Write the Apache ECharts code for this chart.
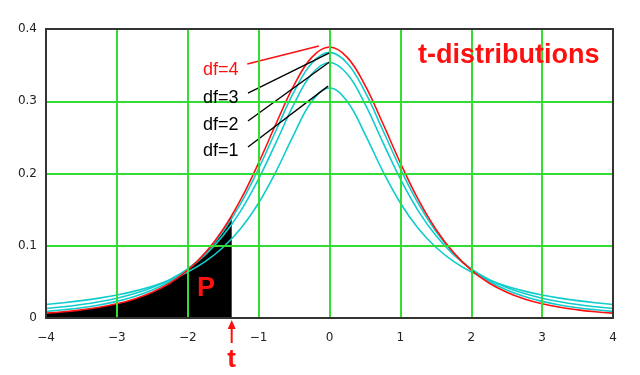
<!DOCTYPE html>
<html>
<head>
<meta charset="utf-8">
<script src="https://cdn.jsdelivr.net/npm/echarts@6/dist/echarts.min.js"></script>
<style>html,body{margin:0;padding:0;background:#fff;}#c{width:640px;height:375px;}</style>
</head>
<body>
<div id="c"></div>
<script>
const xs = [-4,-3.75,-3.5,-3.25,-3,-2.75,-2.5,-2.25,-2,-1.75,-1.5,-1.25,-1,-0.75,-0.5,-0.25,0,0.25,0.5,0.75,1,1.25,1.5,1.75,2,2.25,2.5,2.75,3,3.25,3.5,3.75,4];
const df1 = [0.0187,0.0211,0.0240,0.0275,0.0318,0.0372,0.0439,0.0525,0.0637,0.0784,0.0979,0.1242,0.1592,0.2037,0.2546,0.2996,0.3183,0.2996,0.2546,0.2037,0.1592,0.1242,0.0979,0.0784,0.0637,0.0525,0.0439,0.0372,0.0318,0.0275,0.0240,0.0211,0.0187];
const df2 = [0.0131,0.0155,0.0186,0.0225,0.0274,0.0338,0.0422,0.0533,0.0680,0.0878,0.1141,0.1487,0.1925,0.2438,0.2963,0.3376,0.3536,0.3376,0.2963,0.2438,0.1925,0.1487,0.1141,0.0878,0.0680,0.0533,0.0422,0.0338,0.0274,0.0225,0.0186,0.0155,0.0131];
const df3 = [0.0092,0.0114,0.0142,0.0180,0.0230,0.0297,0.0387,0.0509,0.0675,0.0900,0.1200,0.1589,0.2067,0.2606,0.3132,0.3527,0.3676,0.3527,0.3132,0.2606,0.2067,0.1589,0.1200,0.0900,0.0675,0.0509,0.0387,0.0297,0.0230,0.0180,0.0142,0.0114,0.0092];
const df4 = [0.0067,0.0087,0.0113,0.0148,0.0197,0.0264,0.0357,0.0485,0.0663,0.0905,0.1229,0.1644,0.2147,0.2699,0.3223,0.3607,0.3750,0.3607,0.3223,0.2699,0.2147,0.1644,0.1229,0.0905,0.0663,0.0485,0.0357,0.0264,0.0197,0.0148,0.0113,0.0087,0.0067];
const tValue = -1.38;
const fillX = [-4,-3.75,-3.5,-3.25,-3,-2.75,-2.5,-2.25,-2,-1.75,-1.5,-1.38];
const fillY = [0.0067,0.0087,0.0113,0.0148,0.0197,0.0264,0.0357,0.0485,0.0663,0.0905,0.1229,0.1417];
const xTicks = [-4,-3,-2,-1,0,1,2,3,4];
const yTicks = [0,0.1,0.2,0.3,0.4];
const labelNames = ['df=4','df=3','df=2','df=1'];
const leaderStart = [[-1.16,0.3516],[-1.15,0.3114],[-1.15,0.2727],[-1.15,0.2367]];
const leaderEnd = [[-0.15,0.3765],[0,0.3668],[0,0.3543],[-0.02,0.321]];

const pairs = (x, y) => x.map((v, i) => [v, y[i]]);
const chart = echarts.init(document.getElementById('c'));
const RED = '#ff1010', CYAN = '#10cccc', FRAME = '#333';

const curve = (data, color, z) => ({
  type: 'line', data: pairs(xs, data), smooth: 0.4, symbol: 'none', z: z,
  lineStyle: { color: color, width: 1.6 }, silent: true
});
const leader = (i, color) => ({
  type: 'line', data: [leaderStart[i], leaderEnd[i]], symbol: 'none', z: 6,
  lineStyle: { color: color, width: 1.4 }, silent: true
});
const frameAxis = (pos, min, max, interval) => ({
  type: 'value', position: pos, min: min, max: max, interval: interval,
  axisLine: { show: true, onZero: false, lineStyle: { color: FRAME, width: 2 } },
  axisTick: { show: false }, axisLabel: { show: false }, splitLine: { show: false }, z: 10
});

chart.setOption({
  animation: false,
  backgroundColor: '#fff',
  grid: { left: 46, right: 27, top: 29, bottom: 57 },
  xAxis: [{
    type: 'value', min: -4, max: 4, interval: 1, position: 'bottom',
    axisLine: { show: true, onZero: false, lineStyle: { color: FRAME, width: 2 } }, axisTick: { show: false },
    axisLabel: { margin: 14, color: '#222', fontFamily: 'DejaVu Sans', fontSize: 12,
      formatter: v => xTicks.includes(v) ? String(v).replace('-', '\u2212') : '' },
    splitLine: { show: true, lineStyle: { color: '#33dd33', width: 2 } }, z: 10
  }, frameAxis('top', -4, 4, 1)],
  yAxis: [{
    type: 'value', min: 0, max: 0.4, interval: 0.1, position: 'left',
    axisLine: { show: true, onZero: false, lineStyle: { color: FRAME, width: 2 } }, axisTick: { show: false },
    axisLabel: { margin: 9, color: '#222', fontFamily: 'DejaVu Sans', fontSize: 12,
      formatter: v => { const t = yTicks.find(u => Math.abs(u - v) < 1e-9); return t === undefined ? '' : String(t); } },
    splitLine: { show: true, lineStyle: { color: '#33dd33', width: 2 } }, z: 10
  }, frameAxis('right', 0, 0.4, 0.1)],
  series: [
    { type: 'line', data: pairs(fillX, fillY), smooth: 0.4, symbol: 'none', z: 1,
      lineStyle: { width: 0 }, areaStyle: { color: '#000', opacity: 1 }, silent: true },
    curve(df1, CYAN, 2), curve(df2, CYAN, 2), curve(df3, CYAN, 2), curve(df4, RED, 3),
    leader(0, RED), leader(1, '#000'), leader(2, '#000'), leader(3, '#000')
  ]
});

const tx = chart.convertToPixel({ xAxisIndex: 0, yAxisIndex: 0 }, [tValue, 0]);
const labelYs = [70, 98, 125, 151];
const graphics = [
  { type: 'text', left: 418, top: 42, style: { text: 't-distributions', fill: RED, font: 'bold 27px "Liberation Sans", Arial, sans-serif' }, z: 10 },
  { type: 'text', x: 206, y: 289, style: { text: 'P', fill: RED, font: 'bold 27px "Liberation Sans", Arial, sans-serif', textAlign: 'center', textVerticalAlign: 'middle' }, z: 10 },
  { type: 'line', shape: { x1: tx[0], y1: tx[1] + 25, x2: tx[0], y2: tx[1] + 8 }, style: { stroke: RED, lineWidth: 2 }, z: 10 },
  { type: 'polygon', shape: { points: [[tx[0], tx[1] + 2], [tx[0] - 4, tx[1] + 11], [tx[0] + 4, tx[1] + 11]] }, style: { fill: RED }, z: 10 },
  { type: 'text', x: tx[0], y: tx[1] + 42, style: { text: 't', fill: RED, font: 'bold 26px "Liberation Sans", Arial, sans-serif', textAlign: 'center', textVerticalAlign: 'middle' }, z: 10 }
];
labelNames.forEach((n, i) => {
  graphics.push({ type: 'text', x: 203, y: labelYs[i], style: { text: n, fill: i === 0 ? RED : '#000', font: '18px "Liberation Sans", Arial, sans-serif', textVerticalAlign: 'middle' }, z: 10 });
});
chart.setOption({ graphic: graphics });
</script>
</body>
</html>
